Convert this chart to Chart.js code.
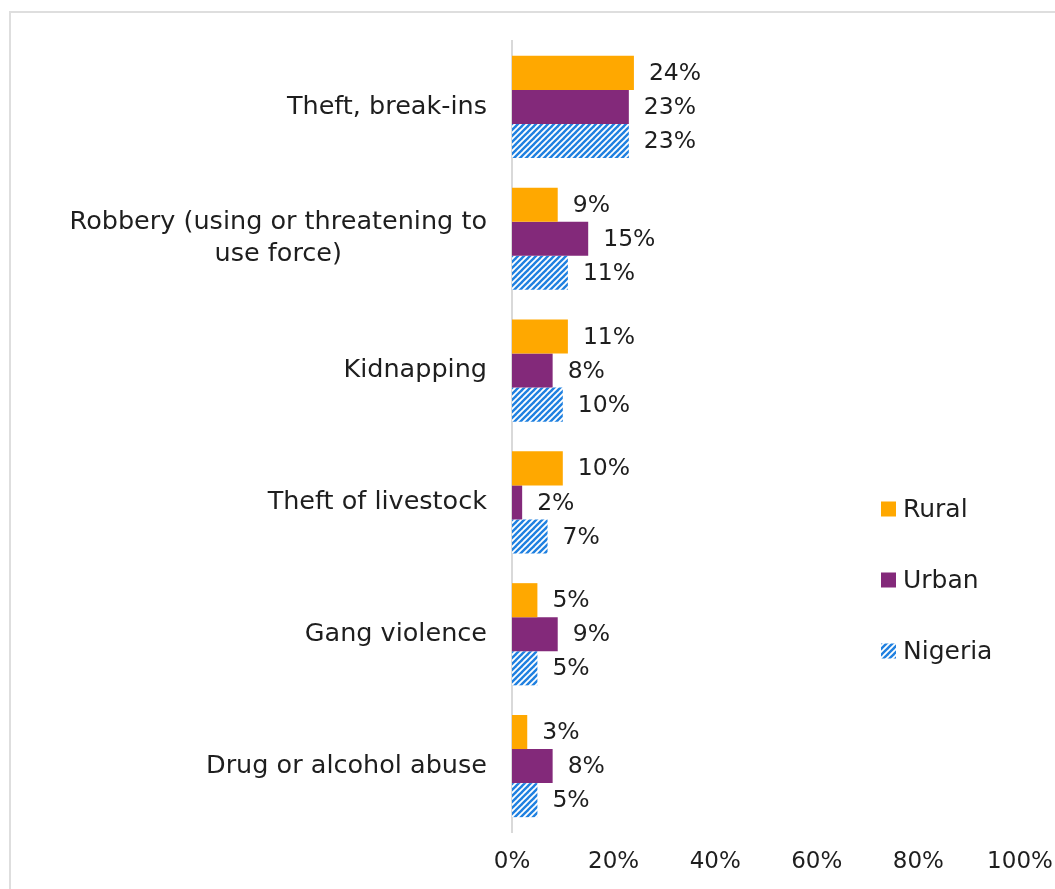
<!DOCTYPE html>
<html>
<head>
<meta charset="utf-8">
<script src="https://cdn.jsdelivr.net/npm/chart.js@4/dist/chart.umd.min.js"></script>
<style>
  html, body { margin: 0; padding: 0; background: #ffffff; }
  #wrap { width: 1055px; height: 889px; }
</style>
</head>
<body>
<div id="wrap"><canvas id="chart" width="1055" height="889"></canvas></div>
<script>
// Crime types reported, by area (percent of respondents)
const categories = [
  'Theft, break-ins',
  ['Robbery (using or threatening to', 'use force)'],
  'Kidnapping',
  'Theft of livestock',
  'Gang violence',
  'Drug or alcohol abuse'
];
const seriesNames = ['Rural', 'Urban', 'Nigeria'];
const ruralValues   = [24, 9, 11, 10, 5, 3];
const urbanValues   = [23, 15, 8, 2, 9, 8];
const nigeriaValues = [23, 11, 10, 7, 5, 5];
const xTicks = [0, 20, 40, 60, 80, 100];

const FONT = '"DejaVu Sans", sans-serif';
const TEXT = '#1e1e1e';
const RURAL = '#ffa800';
const URBAN = '#83297a';
const BLUE = '#1f80e0';

// Diagonal stripe fill for the national series
function stripePattern() {
  const s = 6;
  const c = document.createElement('canvas');
  c.width = s; c.height = s;
  const g = c.getContext('2d');
  g.fillStyle = '#ffffff';
  g.fillRect(0, 0, s, s);
  g.strokeStyle = BLUE;
  g.lineWidth = 2.4;
  for (const o of [-s, 0, s]) {
    g.beginPath();
    g.moveTo(o - 1, s + 1);
    g.lineTo(o + s + 1, -1);
    g.stroke();
  }
  return g.createPattern(c, 'repeat');
}
const NIGERIA = stripePattern();

// Frame around the figure
const framePlugin = {
  id: 'frame',
  beforeDraw(chart) {
    const ctx = chart.ctx;
    ctx.save();
    ctx.strokeStyle = '#dedede';
    ctx.lineWidth = 2;
    ctx.beginPath();
    ctx.moveTo(10, chart.height + 2);
    ctx.lineTo(10, 12);
    ctx.lineTo(chart.width + 2, 12);
    ctx.stroke();
    ctx.restore();
  }
};

// Category labels, each block centred and right-aligned against the axis
const categoryLabelPlugin = {
  id: 'categoryLabels',
  afterDraw(chart) {
    const ctx = chart.ctx;
    const y = chart.scales.y;
    const right = chart.chartArea.left - 25;
    const lh = 32;
    ctx.save();
    ctx.font = '25.5px ' + FONT;
    ctx.fillStyle = TEXT;
    ctx.textBaseline = 'middle';
    ctx.textAlign = 'center';
    categories.forEach((lab, i) => {
      const lines = Array.isArray(lab) ? lab : [lab];
      const w = Math.max(...lines.map(l => ctx.measureText(l).width));
      const cx = right - w / 2;
      const cy = y.getPixelForValue(i);
      lines.forEach((l, k) => {
        ctx.fillText(l, cx, cy + (k - (lines.length - 1) / 2) * lh);
      });
    });
    ctx.restore();
  }
};

// Value labels at the end of each bar
const valueLabelPlugin = {
  id: 'valueLabels',
  afterDatasetsDraw(chart) {
    const ctx = chart.ctx;
    ctx.save();
    ctx.font = '23.5px ' + FONT;
    ctx.fillStyle = TEXT;
    ctx.textBaseline = 'middle';
    ctx.textAlign = 'left';
    chart.data.datasets.forEach((ds, di) => {
      const meta = chart.getDatasetMeta(di);
      meta.data.forEach((bar, i) => {
        ctx.fillText(ds.data[i] + '%', bar.x + 15, bar.y + 1);
      });
    });
    ctx.restore();
  }
};

// Legend stacked on the right
const legendPlugin = {
  id: 'sideLegend',
  afterDraw(chart) {
    const ctx = chart.ctx;
    const x0 = 881, y0 = 509, step = 71, box = 15;
    ctx.save();
    ctx.font = '25px ' + FONT;
    ctx.textBaseline = 'middle';
    chart.data.datasets.forEach((ds, i) => {
      const cy = y0 + i * step;
      ctx.fillStyle = ds.backgroundColor;
      ctx.fillRect(x0, cy - box / 2, box, box);
      ctx.fillStyle = TEXT;
      ctx.fillText(ds.label, x0 + box + 7, cy + 1);
    });
    ctx.restore();
  }
};

new Chart(document.getElementById('chart'), {
  type: 'bar',
  data: {
    labels: categories,
    datasets: [
      { label: seriesNames[0], data: ruralValues, backgroundColor: RURAL },
      { label: seriesNames[1], data: urbanValues, backgroundColor: URBAN },
      { label: seriesNames[2], data: nigeriaValues, backgroundColor: NIGERIA }
    ]
  },
  options: {
    indexAxis: 'y',
    responsive: false,
    animation: false,
    devicePixelRatio: 1,
    layout: { padding: { left: 512, right: 35, top: 41, bottom: 0 } },
    datasets: { bar: { categoryPercentage: 0.775, barPercentage: 1.0, borderWidth: 0 } },
    scales: {
      x: {
        min: 0, max: 100,
        afterBuildTicks(scale) { scale.ticks = xTicks.map(v => ({ value: v })); },
        afterFit(scale) {
          scale.height = 57;
          scale.paddingLeft = 0;
          scale.paddingRight = 0;
        },
        grid: { display: false, drawTicks: false },
        border: { display: false },
        ticks: {
          padding: 16,
          color: TEXT,
          font: { family: FONT, size: 23 },
          callback: v => v + '%'
        }
      },
      y: {
        grid: { display: false, drawTicks: false },
        border: { display: true, color: '#d9d9d9', width: 2 },
        ticks: { display: false }
      }
    },
    plugins: {
      legend: { display: false },
      tooltip: { enabled: false }
    }
  },
  plugins: [framePlugin, categoryLabelPlugin, valueLabelPlugin, legendPlugin]
});
</script>
</body>
</html>
